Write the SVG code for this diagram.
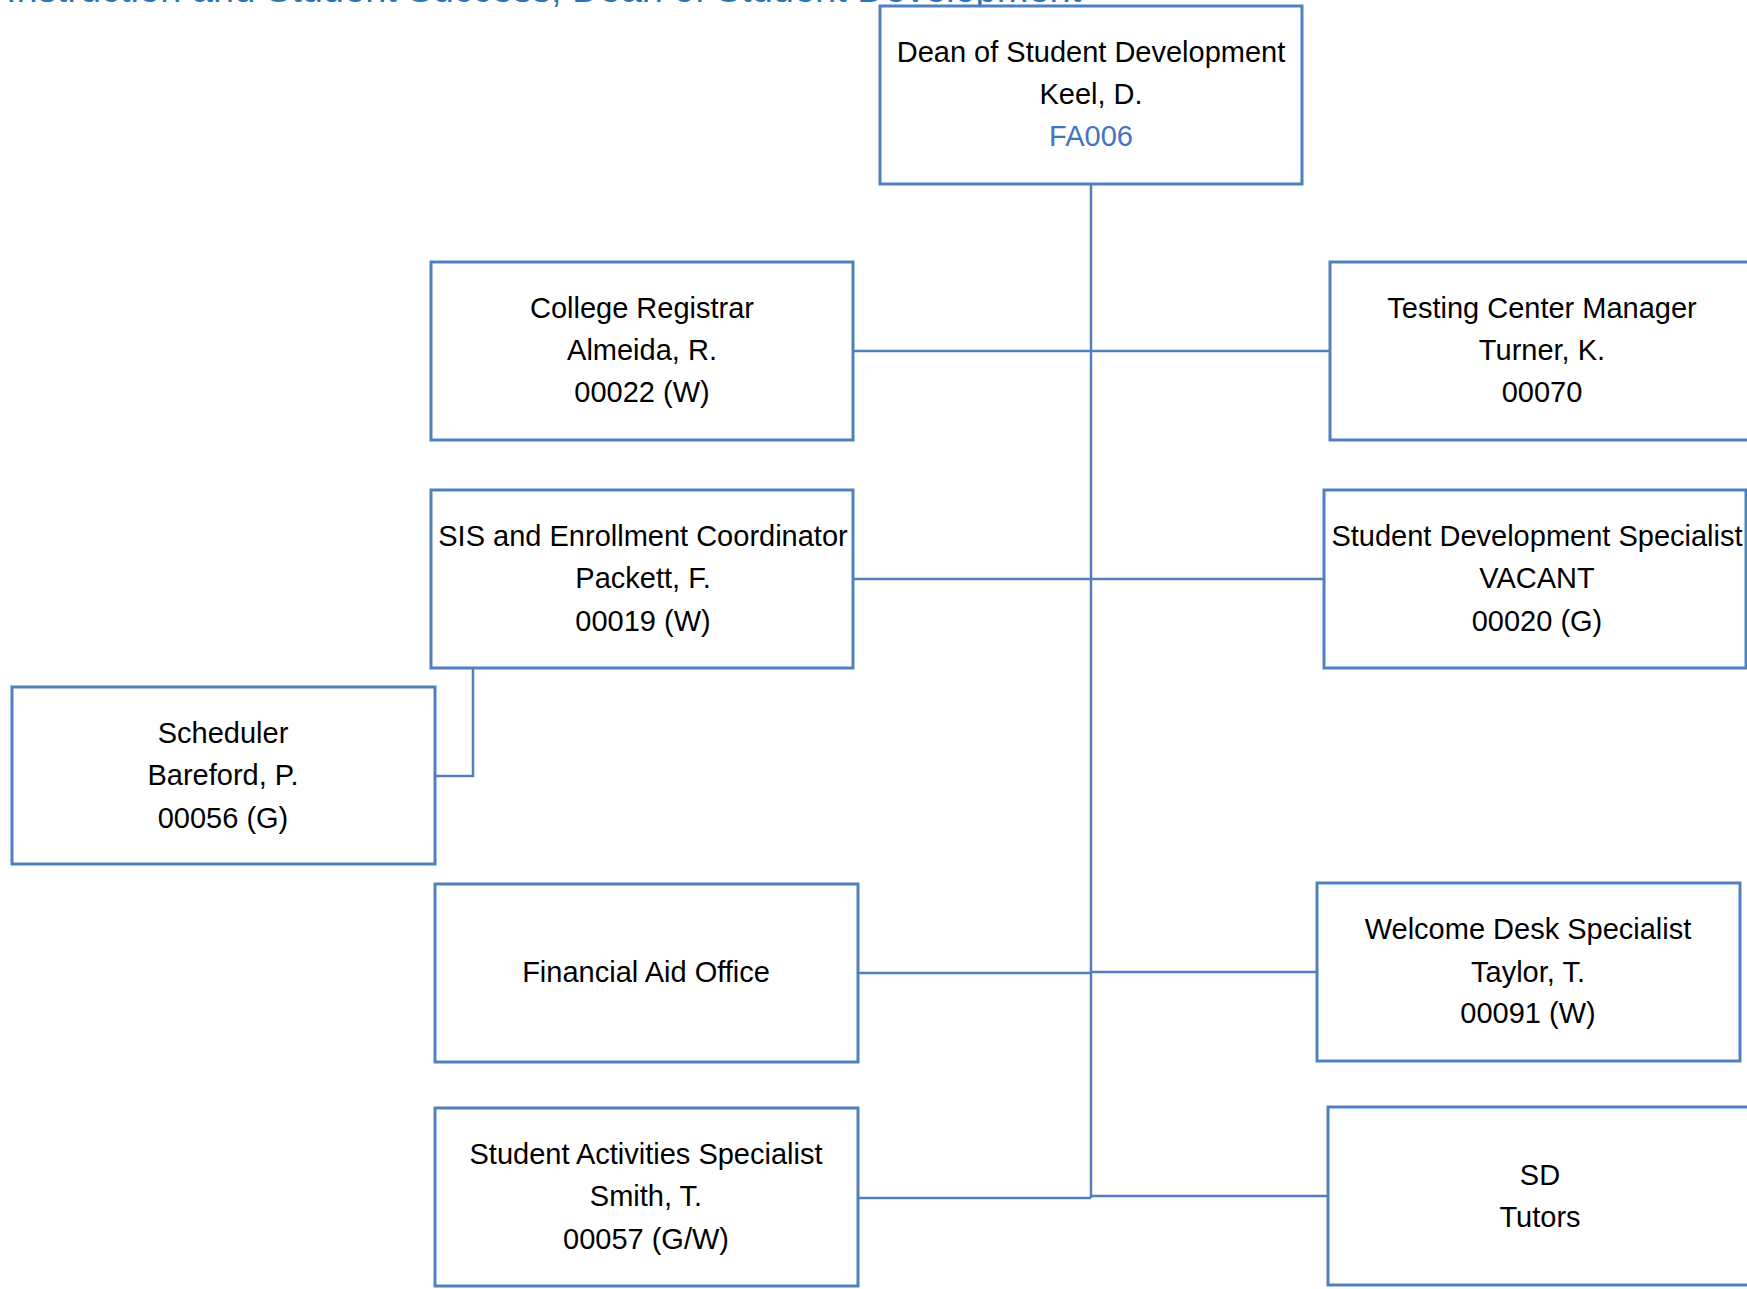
<svg xmlns="http://www.w3.org/2000/svg" width="1747" height="1289" viewBox="0 0 1747 1289">
<style>
.box{fill:#fff;stroke:#4F81BD;stroke-width:3}
.ln{fill:none;stroke:#4F81BD;stroke-width:2.5}
text{font-family:"Liberation Sans",Arial,sans-serif;font-size:29px;fill:#000;text-anchor:middle}
.hd{font-size:38px;fill:#2E74B5;text-anchor:start}
.blue{fill:#4472C4}
</style>
<rect width="1747" height="1289" fill="#fff"/>
<text class="hd" x="6" y="2">Instruction and Student Success, Dean of Student Development</text>
<g id="connectors">
<path class="ln" d="M1091 184V1198"/>
<path class="ln" d="M853 351H1330"/>
<path class="ln" d="M853 579H1324"/>
<path class="ln" d="M473 668V776H435"/>
<path class="ln" d="M858 973H1091M1091 972H1317"/>
<path class="ln" d="M858 1198H1091M1091 1196H1328"/>
</g>
<g id="dean">
<rect class="box" x="880" y="6" width="422" height="178"/>
<text x="1091" y="62">Dean of Student Development</text>
<text x="1091" y="104">Keel, D.</text>
<text class="blue" x="1091" y="146">FA006</text>
</g>
<g id="registrar">
<rect class="box" x="431" y="262" width="422" height="178"/>
<text x="642" y="318">College Registrar</text>
<text x="642" y="360">Almeida, R.</text>
<text x="642" y="402">00022 (W)</text>
</g>
<g id="testing">
<rect class="box" x="1330" y="262" width="430" height="178"/>
<text x="1542" y="318">Testing Center Manager</text>
<text x="1542" y="360">Turner, K.</text>
<text x="1542" y="402">00070</text>
</g>
<g id="sis">
<rect class="box" x="431" y="490" width="422" height="178"/>
<text x="643" y="546">SIS and Enrollment Coordinator</text>
<text x="643" y="588">Packett, F.</text>
<text x="643" y="631">00019 (W)</text>
</g>
<g id="sds">
<rect class="box" x="1324" y="490" width="422" height="178"/>
<text x="1537" y="546">Student Development Specialist</text>
<text x="1537" y="588">VACANT</text>
<text x="1537" y="631">00020 (G)</text>
</g>
<g id="scheduler">
<rect class="box" x="12" y="687" width="423" height="177"/>
<text x="223" y="743">Scheduler</text>
<text x="223" y="785">Bareford, P.</text>
<text x="223" y="828">00056 (G)</text>
</g>
<g id="finaid">
<rect class="box" x="435" y="884" width="423" height="178"/>
<text x="646" y="982">Financial Aid Office</text>
</g>
<g id="welcome">
<rect class="box" x="1317" y="883" width="423" height="178"/>
<text x="1528" y="939">Welcome Desk Specialist</text>
<text x="1528" y="982">Taylor, T.</text>
<text x="1528" y="1023">00091 (W)</text>
</g>
<g id="activities">
<rect class="box" x="435" y="1108" width="423" height="178"/>
<text x="646" y="1164">Student Activities Specialist</text>
<text x="646" y="1206">Smith, T.</text>
<text x="646" y="1249">00057 (G/W)</text>
</g>
<g id="tutors">
<rect class="box" x="1328" y="1107" width="430" height="178"/>
<text x="1540" y="1185">SD</text>
<text x="1540" y="1227">Tutors</text>
</g>
</svg>
